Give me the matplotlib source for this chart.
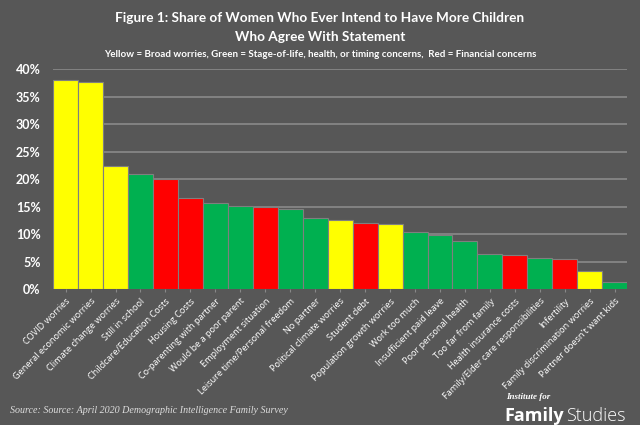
import numpy as np
import matplotlib.pyplot as plt
from matplotlib.ticker import PercentFormatter

# Survey data (share agreeing, %)
categories = [
    "COVID worries", "General economic worries", "Climate change worries",
    "Still in school", "Childcare/Education Costs", "Housing Costs",
    "Co-parenting with partner", "Would be a poor parent", "Employment situation",
    "Leisure time/Personal freedom", "No partner", "Political climate worries",
    "Student debt", "Population growth worries", "Work too much",
    "Insufficient paid leave", "Poor personal health", "Too far from family",
    "Health insurance costs", "Family/Elder care responsibilities", "Infertility",
    "Family discrimination worries", "Partner doesn't want kids",
]
values = [38.0, 37.6, 22.4, 20.9, 20.0, 16.5, 15.7, 15.2, 14.9, 14.5, 13.0,
          12.5, 12.1, 11.85, 10.45, 9.85, 8.7, 6.45, 6.25, 5.7, 5.5, 3.3, 1.2]
groups = ["Y", "Y", "Y", "G", "R", "R", "G", "G", "R", "G", "G", "Y",
          "R", "Y", "G", "G", "G", "G", "R", "G", "R", "Y", "G"]

palette = {"Y": "#FFFF00", "G": "#00B050", "R": "#FF0000"}
bg = "#575757"

fig = plt.figure(figsize=(6.4, 4.25), dpi=100, facecolor=bg)
ax = fig.add_axes([0.083, 0.32, 0.897, 0.517], facecolor=bg)

x = np.arange(len(categories))
ax.set_axisbelow(True)
ax.yaxis.grid(True, color="#8a8a8a", linewidth=1.2)
ax.bar(x, values, width=1.0, color=[palette[g] for g in groups],
       edgecolor="#7f7f7f", linewidth=0.8)

ax.set_xlim(-0.5, len(categories) - 0.5)
ax.set_ylim(0, 40)
ax.set_yticks(np.arange(0, 41, 5))
ax.yaxis.set_major_formatter(PercentFormatter(decimals=0))
for s in ax.spines.values():
    s.set_visible(False)
ax.tick_params(axis="y", length=0, colors="white", labelsize=9, pad=9)
ax.tick_params(axis="x", length=2, color="#888888", colors="white")
for lab in ax.get_yticklabels():
    lab.set_fontweight("bold")
    lab.set_family("Lato")
ax.set_xticks(x)
ax.set_xticklabels(categories, rotation=45, ha="right", rotation_mode="anchor",
                   fontsize=6.6, color="white", family="Open Sans")

fig.text(0.5, 0.957, "Figure 1: Share of Women Who Ever Intend to Have More Children",
         ha="center", va="center", color="white", fontsize=9.8, family="Lato", weight="bold")
fig.text(0.5, 0.912, "Who Agree With Statement",
         ha="center", va="center", color="white", fontsize=9.8, family="Lato", weight="bold")
fig.text(0.5, 0.871, "Yellow = Broad worries, Green = Stage-of-life, health, or timing concerns,  Red = Financial concerns",
         ha="center", va="center", color="white", fontsize=7, family="Lato", weight="bold")

fig.text(0.016, 0.035, "Source: Source: April 2020 Demographic Intelligence Family Survey",
         ha="left", va="center", color="#dddddd", fontsize=7.2, family="Liberation Serif", style="italic")
fig.text(0.79, 0.067, "Institute for", ha="left", va="center", color="white",
         fontsize=6.5, family="Liberation Serif", style="italic", weight="bold")
fam = fig.text(0.788, 0.022, "Family", ha="left", va="center", color="white",
               fontsize=13, family="Open Sans", weight="bold")
fig.canvas.draw()
bb = fam.get_window_extent().transformed(fig.transFigure.inverted())
fig.text(bb.x1 + 0.004, 0.022, "Studies", ha="left", va="center", color="white",
         fontsize=13, family="Open Sans", weight="light")

fig.savefig("out.png", dpi=100, facecolor=bg)
